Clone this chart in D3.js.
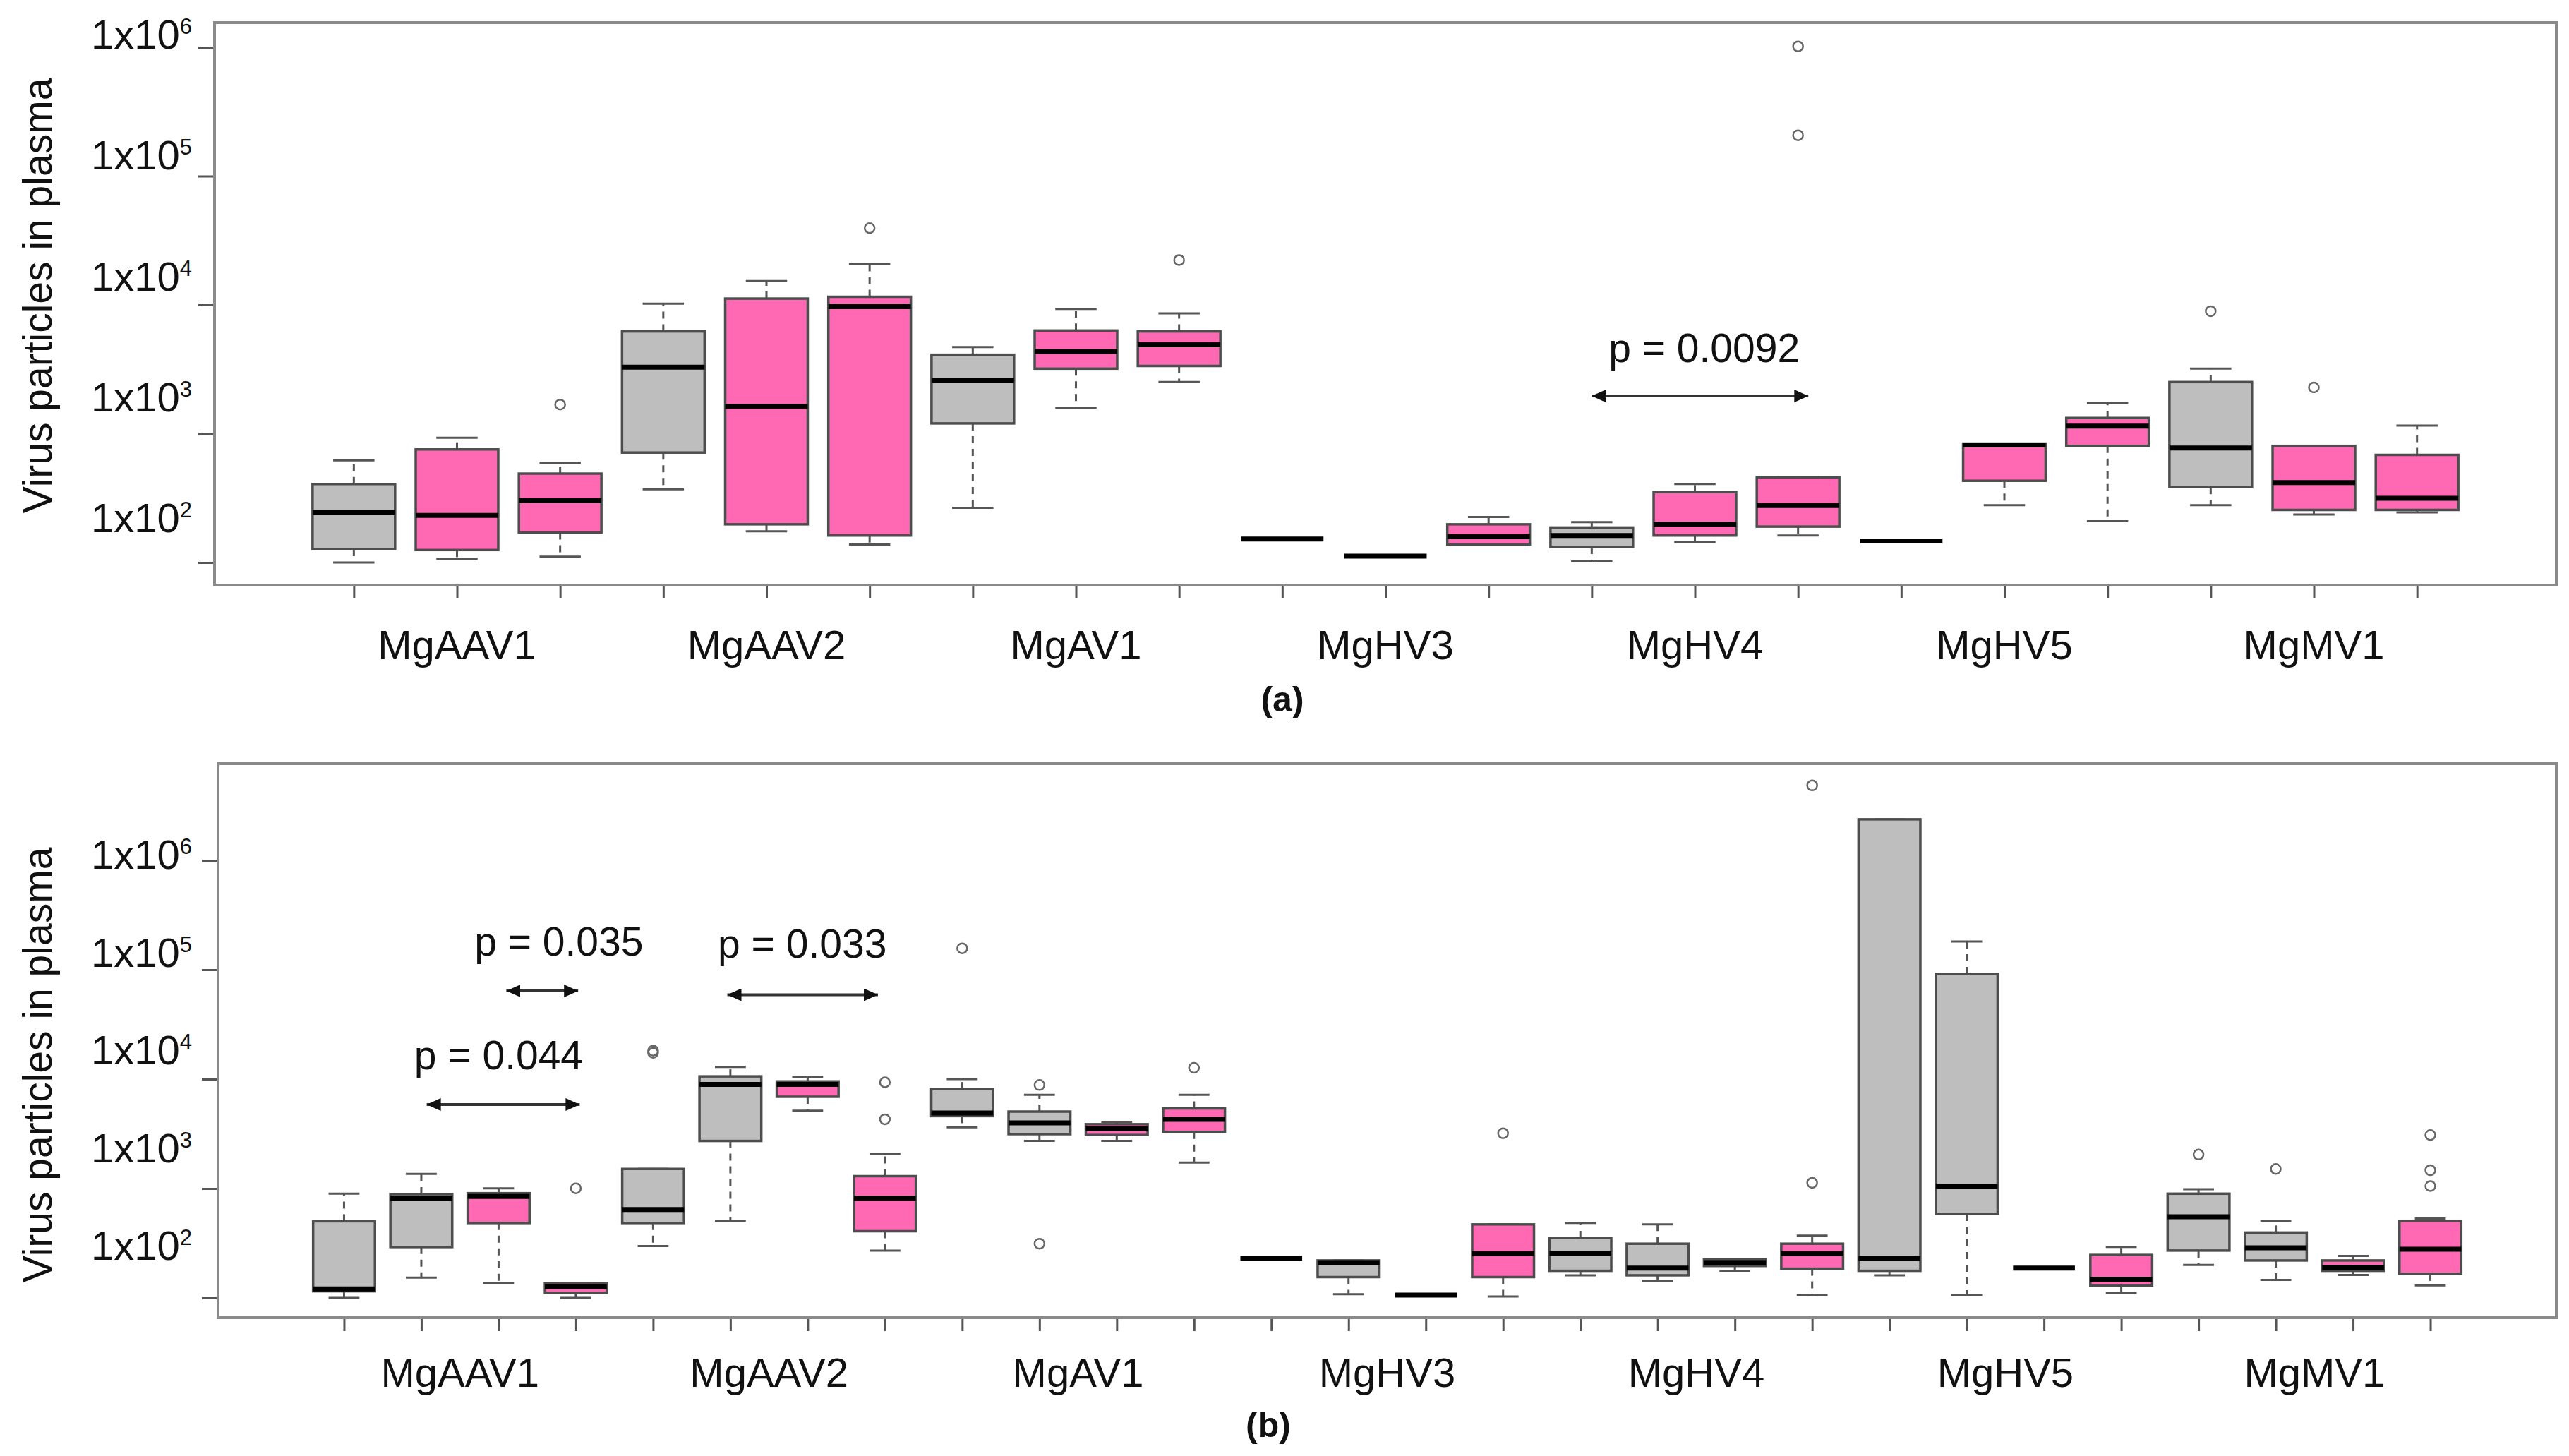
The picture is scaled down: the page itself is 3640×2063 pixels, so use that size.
<!DOCTYPE html>
<html>
<head>
<meta charset="utf-8">
<title>Virus particles in plasma</title>
<script src="https://cdn.jsdelivr.net/npm/d3@7/dist/d3.min.js"></script>
<style>
  html, body { margin: 0; padding: 0; background: #fff; }
  svg text { font-family: "Liberation Sans", Arial, sans-serif; fill: #111; }
</style>
</head>
<body>
<div id="chart"></div>
<script>
'use strict';

const viruses = ['MgAAV1', 'MgAAV2', 'MgAV1', 'MgHV3', 'MgHV4', 'MgHV5', 'MgMV1'];
const yTicks = [1e2, 1e3, 1e4, 1e5, 1e6];

// panel (a): three groups per virus
const groupsA = ['g1', 'g2', 'g3'];
const lowA  = [100, 107, 111, 370, 175, 138, 266, 1592, 2518, 152, 112, 138, 102, 144, 162, 147, 279, 209, 279, 236, 245];
const q1A   = [127, 125, 171, 714, 198, 162, 1202, 3199, 3357, 152, 112, 138, 132, 162, 190, 147, 431, 805, 385, 256, 256];
const medA  = [245, 232, 303, 3281, 1633, 9683, 2576, 4345, 4898, 152, 112, 159, 162, 198, 277, 147, 818, 1146, 774, 417, 315];
const q3A   = [407, 755, 490, 6223, 11194, 11561, 4102, 6324, 6223, 152, 112, 198, 187, 352, 459, 147, 838, 1324, 2518, 805, 685];
const highA = [622, 931, 594, 10233, 15311, 20749, 4699, 9311, 8590, 152, 112, 226, 206, 407, 459, 147, 838, 1726, 3199, 805, 1156];
const outA  = [[], [], [1683], [], [], [39446], [], [], [22284], [], [], [], [], [], [1016000, 207500],
               [], [], [], [8933], [2286], []];
const pTextA = ['p = 0.0092'];
const pFromA = [13.0];
const pToA = [15.1];
const pAtA = [1963];
const pTextPosA = [14.09];
const pTextAtA = [3597];

// panel (b): four groups per virus
const groupsB = ['g1', 'g2', 'g3', 'g4'];
const lowB  = [100, 153, 137, 100, 298, 507, 5140, 271, 3622, 2723, 2723, 1726, 231, 108, 106, 103,
               161, 144, 177, 106, 161, 106, 187, 111, 200, 146, 162, 130];
const q1B   = [115, 292, 484, 111, 484, 2723, 6902, 407, 4592, 3141, 3083, 3296, 231, 155, 106, 155,
               177, 161, 196, 185, 177, 585, 187, 130, 271, 220, 177, 166];
const medB  = [121, 815, 847, 127, 643, 8933, 8933, 815, 4909, 3981, 3516, 4295, 231, 210, 106, 254,
               254, 187, 210, 254, 231, 1054, 187, 148, 552, 287, 191, 279];
const q3B   = [502, 887, 906, 137, 1510, 10593, 9528, 1297, 8110, 5047, 3873, 5395, 231, 220, 106, 470,
               353, 313, 224, 313, 2371000, 91400, 187, 247, 897, 396, 220, 507];
const highB = [897, 1361, 1005, 137, 1510, 12912, 10495, 2089, 10000, 7178, 4055, 7178, 231, 220, 106, 470,
               484, 470, 224, 371, 2371000, 181100, 187, 292, 986, 502, 242, 532];
const outB  = [[], [], [], [1005], [17400, 18200], [], [], [4295, 9354], [157000], [8831, 313], [], [12677],
               [], [], [], [3199], [], [], [], [1127, 4842000], [], [], [], [], [2046], [1510], [],
               [1054, 1469, 3083]];
const pTextB = ['p = 0.044', 'p = 0.035', 'p = 0.033'];
const pFromB = [2.07, 3.1, 5.96];
const pToB = [4.05, 4.03, 7.91];
const pAtB = [5860, 64000, 59000];
const pTextPosB = [3.0, 3.78, 6.93];
const pTextAtB = [12300, 134600, 129000];

const width = 3640;
const height = 2063;
const colours = ['#bebebe', '#ff69b4'];

const svg = d3.select('#chart').append('svg')
    .attr('width', width)
    .attr('height', height)
    .attr('viewBox', [0, 0, width, height]);

const defs = svg.append('defs');
defs.append('marker')
    .attr('id', 'head')
    .attr('viewBox', '0 0 20 18')
    .attr('refX', 20).attr('refY', 9)
    .attr('markerWidth', 20).attr('markerHeight', 18)
    .attr('markerUnits', 'userSpaceOnUse')
    .attr('orient', 'auto-start-reverse')
    .append('path')
    .attr('d', 'M0,0 L20,9 L0,18 Z')
    .attr('fill', '#111');

function drawPanel(p) {
    const n = p.med.length;
    const g = svg.append('g');
    const x = d3.scaleLinear().domain(p.xDomain).range([p.frame.x0, p.frame.x1]);
    const y = d3.scaleLog().domain([1e2, 1e6]).range(p.yRange);
    const yLab = d3.scaleLog().domain([1e2, 1e6]).range(p.labelRange);
    const colour = d3.scaleOrdinal(p.groups, p.groupColours);
    const bw = x(1.8) - x(1);

    const boxes = d3.range(n).map(i => ({
        pos: i + 1, grp: p.groups[i % p.groups.length],
        lo: p.low[i], q1: p.q1[i], med: p.med[i], q3: p.q3[i], hi: p.high[i], out: p.out[i]
    }));

    const b = g.selectAll('g.box').data(boxes).join('g').attr('class', 'box');
    // whiskers
    b.append('line')
        .attr('x1', d => x(d.pos)).attr('x2', d => x(d.pos))
        .attr('y1', d => y(d.q3)).attr('y2', d => y(d.hi))
        .attr('stroke', '#555').attr('stroke-width', 3).attr('stroke-dasharray', '10,8');
    b.append('line')
        .attr('x1', d => x(d.pos)).attr('x2', d => x(d.pos))
        .attr('y1', d => y(d.q1)).attr('y2', d => y(d.lo))
        .attr('stroke', '#555').attr('stroke-width', 3).attr('stroke-dasharray', '10,8');
    // staples
    b.selectAll('line.cap').data(d => [d.hi, d.lo].map(v => ({pos: d.pos, v})))
        .join('line').attr('class', 'cap')
        .attr('x1', d => x(d.pos) - bw / 4).attr('x2', d => x(d.pos) + bw / 4)
        .attr('y1', d => y(d.v)).attr('y2', d => y(d.v))
        .attr('stroke', '#555').attr('stroke-width', 3);
    // box
    b.append('rect')
        .attr('x', d => x(d.pos) - bw / 2)
        .attr('width', bw)
        .attr('y', d => y(d.q3))
        .attr('height', d => y(d.q1) - y(d.q3))
        .attr('fill', d => colour(d.grp))
        .attr('stroke', '#4d4d4d').attr('stroke-width', 3.5);
    // median
    b.append('line')
        .attr('x1', d => x(d.pos) - bw / 2).attr('x2', d => x(d.pos) + bw / 2)
        .attr('y1', d => y(d.med)).attr('y2', d => y(d.med))
        .attr('stroke', '#000').attr('stroke-width', 7);
    // outliers
    b.selectAll('circle').data(d => d.out.map(v => ({pos: d.pos, v})))
        .join('circle')
        .attr('cx', d => x(d.pos)).attr('cy', d => y(d.v)).attr('r', 7)
        .attr('fill', 'none').attr('stroke', '#666').attr('stroke-width', 2.5);

    // y axis ticks
    const ya = g.append('g')
        .attr('transform', `translate(${p.frame.x0},0)`)
        .call(d3.axisLeft(y).tickValues(yTicks).tickFormat('').tickSize(23).tickSizeOuter(0));
    ya.select('.domain').remove();
    ya.selectAll('line').attr('stroke', '#555').attr('stroke-width', 3);

    // y tick labels (placed as in the original figure)
    const lab = g.selectAll('text.ylab').data(yTicks).join('text')
        .attr('class', 'ylab')
        .attr('x', 272).attr('y', d => yLab(d))
        .attr('text-anchor', 'end')
        .attr('font-size', 58);
    lab.append('tspan').text('1x10');
    lab.append('tspan').attr('font-size', 31).attr('dy', -21).text(d => Math.round(Math.log10(d)));

    // x axis ticks
    const xa = g.append('g')
        .attr('transform', `translate(0,${p.frame.y1})`)
        .call(d3.axisBottom(x).tickValues(d3.range(1, n + 1)).tickFormat('').tickSize(19).tickSizeOuter(0));
    xa.select('.domain').remove();
    xa.selectAll('line').attr('stroke', '#555').attr('stroke-width', 3);

    const k = p.groups.length;
    g.selectAll('text.vir').data(viruses).join('text')
        .attr('class', 'vir')
        .attr('x', (d, i) => x(i * k + (k + 1) / 2))
        .attr('y', p.virusBaseline)
        .attr('text-anchor', 'middle')
        .attr('font-size', 58)
        .text(d => d);

    // p-value annotations
    p.pText.forEach((t, i) => {
        g.append('line')
            .attr('x1', x(p.pFrom[i])).attr('x2', x(p.pTo[i]))
            .attr('y1', y(p.pAt[i])).attr('y2', y(p.pAt[i]))
            .attr('stroke', '#333').attr('stroke-width', 4)
            .attr('marker-start', 'url(#head)').attr('marker-end', 'url(#head)');
        g.append('text')
            .attr('x', x(p.pTextPos[i])).attr('y', y(p.pTextAt[i]))
            .attr('text-anchor', 'middle')
            .attr('font-size', 57)
            .text(t);
    });

    // plot frame
    g.append('rect')
        .attr('x', p.frame.x0).attr('y', p.frame.y0)
        .attr('width', p.frame.x1 - p.frame.x0).attr('height', p.frame.y1 - p.frame.y0)
        .attr('fill', 'none').attr('stroke', '#8a8a8a').attr('stroke-width', 4);

    // axis title
    g.append('text')
        .attr('transform', `translate(73,${p.titleY}) rotate(-90)`)
        .attr('text-anchor', 'middle')
        .attr('font-size', 57)
        .attr('fill', '#222')
        .text('Virus particles in plasma');

    g.append('text')
        .attr('x', p.tagX).attr('y', p.tagY)
        .attr('text-anchor', 'middle')
        .attr('font-size', 50)
        .attr('font-weight', 'bold')
        .text(p.tag);
}

drawPanel({
    groups: groupsA, groupColours: [colours[0], colours[1], colours[1]],
    low: lowA, q1: q1A, med: medA, q3: q3A, high: highA, out: outA,
    pText: pTextA, pFrom: pFromA, pTo: pToA, pAt: pAtA, pTextPos: pTextPosA, pTextAt: pTextAtA,
    frame: {x0: 304, x1: 3622, y0: 32, y1: 829},
    xDomain: [-0.35, 22.35], yRange: [797, 67], labelRange: [754, 69],
    titleY: 419, virusBaseline: 934, tag: '(a)', tagX: 1817, tagY: 1008
});

drawPanel({
    groups: groupsB, groupColours: [colours[0], colours[0], colours[1], colours[1]],
    low: lowB, q1: q1B, med: medB, q3: q3B, high: highB, out: outB,
    pText: pTextB, pFrom: pFromB, pTo: pToB, pAt: pAtB, pTextPos: pTextPosB, pTextAt: pTextAtB,
    frame: {x0: 309, x1: 3622, y0: 1082, y1: 1867},
    xDomain: [-0.63, 29.63], yRange: [1839, 1219], labelRange: [1785, 1231],
    titleY: 1509, virusBaseline: 1965, tag: '(b)', tagX: 1797, tagY: 2036
});
</script>
</body>
</html>
